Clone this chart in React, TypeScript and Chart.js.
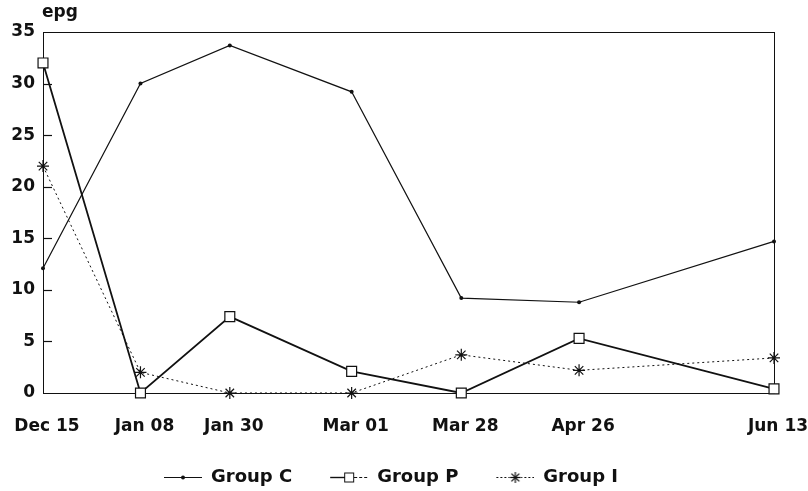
import React, { useEffect, useRef } from "react";
import { Chart, registerables } from "chart.js";

Chart.register(...registerables);

const dateLabels = ["Dec 15", "Jan 08", "Jan 30", "Mar 01", "Mar 28", "Apr 26", "Jun 13"];
const dayOffsets = [0, 24, 46, 76, 103, 132, 180];
const groupC = [12.1, 30, 33.7, 29.2, 9.2, 8.8, 14.7];
const groupP = [32, 0, 7.4, 2.1, 0, 5.3, 0.4];
const groupI = [22, 2, 0, 0, 3.7, 2.2, 3.4];
const yTicks = [0, 5, 10, 15, 20, 25, 30, 35];
const seriesNames = ["Group C", "Group P", "Group I"];

const INK = "#111111";
const FONT = "'DejaVu Sans', 'Liberation Sans', sans-serif";
const ICON_W = 46; // legend box width (8px spacer + 38px marker)

function toPoints(vals: number[]) {
  return vals.map((v, i) => ({ x: dayOffsets[i], y: v }));
}

function makeLegendIcon(kind: "C" | "P" | "I"): HTMLCanvasElement {
  const c = document.createElement("canvas");
  c.width = ICON_W;
  c.height = 14;
  const g = c.getContext("2d")!;
  g.strokeStyle = INK;
  g.fillStyle = INK;
  const x0 = ICON_W - 38;
  const cx = x0 + 19;
  const cy = 7.5;
  if (kind === "C") {
    g.lineWidth = 1;
    g.beginPath();
    g.moveTo(x0, cy);
    g.lineTo(x0 + 38, cy);
    g.stroke();
    g.beginPath();
    g.arc(cx, cy, 2, 0, Math.PI * 2);
    g.fill();
  } else if (kind === "P") {
    g.lineWidth = 1.4;
    g.beginPath();
    g.moveTo(x0, cy);
    g.lineTo(cx, cy);
    g.stroke();
    g.setLineDash([3, 2]);
    g.lineWidth = 1;
    g.beginPath();
    g.moveTo(cx, cy);
    g.lineTo(x0 + 38, cy);
    g.stroke();
    g.setLineDash([]);
    g.fillStyle = "#fff";
    g.fillRect(cx - 4.5, cy - 4.5, 9, 9);
    g.strokeRect(cx - 4.5, cy - 4.5, 9, 9);
  } else {
    g.lineWidth = 1;
    g.setLineDash([2, 2]);
    g.beginPath();
    g.moveTo(x0, cy);
    g.lineTo(x0 + 38, cy);
    g.stroke();
    g.setLineDash([]);
    g.fillStyle = "#fff";
    g.fillRect(cx - 6, 1, 12, 12);
    g.lineWidth = 1.2;
    const r = 5.5;
    for (let k = 0; k < 4; k++) {
      const a = (k * Math.PI) / 4;
      g.beginPath();
      g.moveTo(cx - r * Math.cos(a), cy - r * Math.sin(a));
      g.lineTo(cx + r * Math.cos(a), cy + r * Math.sin(a));
      g.stroke();
    }
  }
  return c;
}

const framePlugin = {
  id: "frame",
  beforeDatasetsDraw(chart: any) {
    const { ctx, chartArea: a, scales } = chart;
    ctx.save();
    ctx.strokeStyle = INK;
    ctx.lineWidth = 1;
    ctx.strokeRect(Math.round(a.left) + 0.5, Math.round(a.top) + 0.5, Math.round(a.right - a.left), Math.round(a.bottom - a.top));
    ctx.lineWidth = 1.2;
    yTicks.forEach((v) => {
      if (v === yTicks[0] || v === yTicks[yTicks.length - 1]) return;
      const y = Math.round(scales.y.getPixelForValue(v)) + 0.5;
      ctx.beginPath();
      ctx.moveTo(a.left, y);
      ctx.lineTo(a.left + 9, y);
      ctx.stroke();
    });
    ctx.fillStyle = INK;
    ctx.font = `bold 17px ${FONT}`;
    ctx.textBaseline = "alphabetic";
    ctx.textAlign = "left";
    ctx.fillText("epg", a.left - 1, 17);
    ctx.restore();
  },
};

export default function App() {
  const ref = useRef<HTMLCanvasElement | null>(null);

  useEffect(() => {
    if (!ref.current) return;
    const icons = [makeLegendIcon("C"), makeLegendIcon("P"), makeLegendIcon("I")];
    const chart = new Chart(ref.current, {
      type: "line",
      data: {
        datasets: [
          {
            label: seriesNames[0],
            data: toPoints(groupC),
            borderColor: INK,
            backgroundColor: INK,
            borderWidth: 1.2,
            pointStyle: "circle",
            pointRadius: 2,
            pointBorderWidth: 0,
            clip: false,
          },
          {
            label: seriesNames[1],
            data: toPoints(groupP),
            borderColor: INK,
            backgroundColor: "#ffffff",
            borderWidth: 1.8,
            pointStyle: "rect",
            pointRadius: 7,
            pointBorderWidth: 1.2,
            clip: false,
          },
          {
            label: seriesNames[2],
            data: toPoints(groupI),
            borderColor: INK,
            backgroundColor: INK,
            borderWidth: 1,
            borderDash: [2, 3],
            pointStyle: "star",
            pointRadius: 6,
            pointBorderWidth: 1.2,
            clip: false,
          },
        ] as any,
      },
      options: {
        animation: false,
        responsive: false,
        maintainAspectRatio: false,
        layout: { padding: { left: 0, right: 34, top: 32, bottom: 0 } },
        plugins: {
          tooltip: { enabled: false },
          legend: {
            position: "bottom",
            maxHeight: 53,
            labels: {
              usePointStyle: true,
              pointStyleWidth: ICON_W,
              padding: 30,
              color: INK,
              font: { family: FONT, size: 18, weight: "bold" },
              generateLabels: (ch: any) =>
                ch.data.datasets.map((ds: any, i: number) => ({
                  text: ds.label,
                  pointStyle: icons[i],
                  fillStyle: INK,
                  strokeStyle: INK,
                  lineWidth: 0,
                  hidden: false,
                  datasetIndex: i,
                  fontColor: INK,
                })),
            },
          },
        } as any,
        scales: {
          x: {
            type: "linear",
            min: dayOffsets[0],
            max: dayOffsets[dayOffsets.length - 1],
            grid: { display: false, drawTicks: false },
            border: { display: false },
            afterBuildTicks: (s: any) => {
              s.ticks = dayOffsets.map((v) => ({ value: v }));
            },
            afterFit: (s: any) => {
              s.height = 45;
              s.paddingLeft = 0;
              s.paddingRight = 0;
            },
            ticks: {
              autoSkip: false,
              maxRotation: 0,
              minRotation: 0,
              padding: 23,
              labelOffset: 4,
              color: INK,
              font: { family: FONT, size: 17, weight: "bold" },
              callback: (v: any) => {
                const idx = dayOffsets.indexOf(Number(v));
                return idx >= 0 ? dateLabels[idx] : "";
              },
            },
          },
          y: {
            min: yTicks[0],
            max: yTicks[yTicks.length - 1],
            grid: { display: false, drawTicks: false },
            border: { display: false },
            afterBuildTicks: (s: any) => {
              s.ticks = yTicks.map((v) => ({ value: v }));
            },
            afterFit: (s: any) => {
              s.width = 43;
              s.paddingTop = 0;
              s.paddingBottom = 0;
            },
            ticks: {
              padding: 8,
              color: INK,
              font: { family: FONT, size: 17, weight: "bold" },
            },
          },
        } as any,
      },
      plugins: [framePlugin],
    });
    return () => chart.destroy();
  }, []);

  return (
    <div style={{ position: "absolute", left: 0, top: 0, width: 808, height: 491, background: "#fff" }}>
      <canvas ref={ref} width={808} height={491} style={{ display: "block", width: 808, height: 491 }} />
    </div>
  );
}
